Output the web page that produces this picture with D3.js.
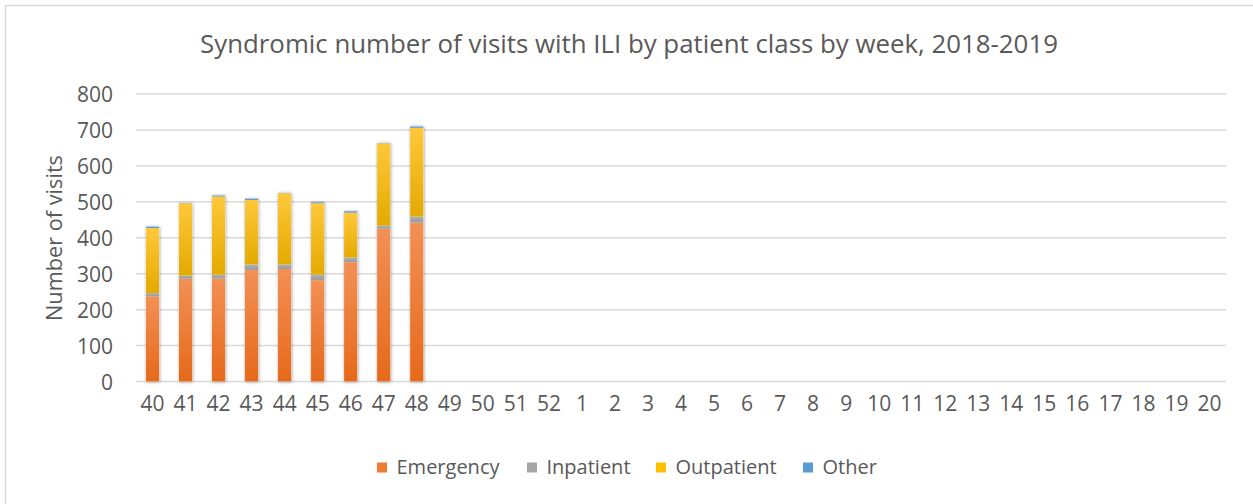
<!DOCTYPE html>
<html><head><meta charset="utf-8">
<script src="https://cdn.jsdelivr.net/npm/d3@7"></script>
<style>body{margin:0;background:#fff;} text{font-family:"Open Sans","Noto Sans",sans-serif;fill:#595959;}</style>
</head><body>
<svg id="c" width="1253" height="504"></svg>
<script>
const weeks = ["40","41","42","43","44","45","46","47","48","49","50","51","52","1","2","3","4","5","6","7","8","9","10","11","12","13","14","15","16","17","18","19","20"];
const emergency  = [237, 286, 286, 310, 313, 282, 332, 425, 442];
const inpatient  = [9, 9, 11, 16, 13, 15, 13, 9, 17];
const outpatient = [181, 201, 218, 179, 198, 199, 125, 229, 247];
const other      = [4, 1, 3, 4, 1, 3, 4, 1, 4];
const seriesNames = ["Emergency", "Inpatient", "Outpatient", "Other"];
const yTicks = [0, 100, 200, 300, 400, 500, 600, 700, 800];
const titleText = "Syndromic number of visits with ILI by patient class by week, 2018-2019";
const yLabel = "Number of visits";

const svg = d3.select("#c");
const m = {left: 136, right: 1226, top: 94, bottom: 381.5};

const defs = svg.append("defs");
function grad(id, c1, c2){
  const g = defs.append("linearGradient").attr("id", id).attr("x1",0).attr("y1",0).attr("x2",0).attr("y2",1);
  g.append("stop").attr("offset","0%").attr("stop-color",c1);
  g.append("stop").attr("offset","100%").attr("stop-color",c2);
}
grad("gE", "#F39055", "#E6691A");
grad("gI", "#B0B0B0", "#9A9A9A");
grad("gO", "#FFC83A", "#E3AA00");
grad("gX", "#6AA6DC", "#4F8FCB");
const f = defs.append("filter").attr("id","sh").attr("x","-40%").attr("y","-10%").attr("width","180%").attr("height","120%");
f.append("feDropShadow").attr("dx",0.5).attr("dy",0.5).attr("stdDeviation",1.6).attr("flood-color","#000").attr("flood-opacity",0.45);

const colors = {Emergency:"url(#gE)", Inpatient:"url(#gI)", Outpatient:"url(#gO)", Other:"url(#gX)"};
const legendColors = {Emergency:"#ED7D31", Inpatient:"#A5A5A5", Outpatient:"#FFC000", Other:"#5B9BD5"};

svg.append("rect").attr("x",5.5).attr("y",5.5).attr("width",1260).attr("height",510)
  .attr("fill","#fff").attr("stroke","#D9D9D9").attr("stroke-width",1.5);

const x = d3.scaleBand().domain(weeks).range([m.left, m.right]).paddingInner(0.6).paddingOuter(0.3);
const y = d3.scaleLinear().domain([0, 800]).range([m.bottom, m.top]);

svg.append("g").selectAll("line").data(yTicks).join("line")
  .attr("x1", m.left).attr("x2", m.right)
  .attr("y1", d => y(d)).attr("y2", d => y(d))
  .attr("stroke", "#D9D9D9").attr("stroke-width", 1.5);

const yAxis = svg.append("g").attr("transform", `translate(${m.left},0)`)
  .call(d3.axisLeft(y).tickValues(yTicks).tickSize(0).tickPadding(23));
yAxis.select(".domain").remove();
yAxis.selectAll("text").style("font-size","21px").attr("fill","#595959").attr("dy","0.36em");

const xAxis = svg.append("g").attr("transform", `translate(0,${m.bottom})`)
  .call(d3.axisBottom(x).tickSize(0).tickPadding(22));
xAxis.select(".domain").remove();
xAxis.selectAll("text").style("font-size","21px").attr("fill","#595959").attr("dy","0.36em");

const rows = weeks.map((w, i) => ({week: w,
  Emergency: emergency[i] || 0, Inpatient: inpatient[i] || 0,
  Outpatient: outpatient[i] || 0, Other: other[i] || 0}));
const total = r => r.Emergency + r.Inpatient + r.Outpatient + r.Other;
const stack = d3.stack().keys(seriesNames)(rows);
const barsG = svg.append("g");
barsG.append("g").selectAll("rect").data(rows.filter(r => total(r) > 0)).join("rect")
  .attr("x", d => x(d.week)).attr("width", x.bandwidth())
  .attr("y", d => y(total(d))).attr("height", d => y(0) - y(total(d)))
  .attr("fill", "#fff").attr("filter", "url(#sh)");
stack.forEach(s => {
  barsG.append("g").selectAll("rect").data(s.filter(d => d[1] > d[0])).join("rect")
    .attr("x", d => x(d.data.week)).attr("width", x.bandwidth())
    .attr("y", d => y(d[1])).attr("height", d => y(d[0]) - y(d[1]))
    .attr("fill", colors[s.key]);
});

const t = svg.append("text").attr("x", 629).attr("y", 53).attr("text-anchor","middle")
  .style("font-size","20px").text(titleText);
const tw = t.node().getComputedTextLength();
t.style("font-size", (20 * 858 / tw).toFixed(2) + "px");

const yl = svg.append("text").attr("transform","translate(62,238) rotate(-90)").attr("text-anchor","middle")
  .style("font-size","20px").text(yLabel);
const yw = yl.node().getComputedTextLength();
yl.style("font-size", (20 * 166 / yw).toFixed(2) + "px");

const leg = svg.append("g");
const starts = [377, 527, 656, 803];
seriesNames.forEach((n, i) => {
  leg.append("rect").attr("x", starts[i]).attr("y", 462.5).attr("width", 10).attr("height", 10).attr("fill", legendColors[n]);
  leg.append("text").attr("x", starts[i] + 19.5).attr("y", 474).style("font-size","20px").text(n);
});
</script>
</body></html>
